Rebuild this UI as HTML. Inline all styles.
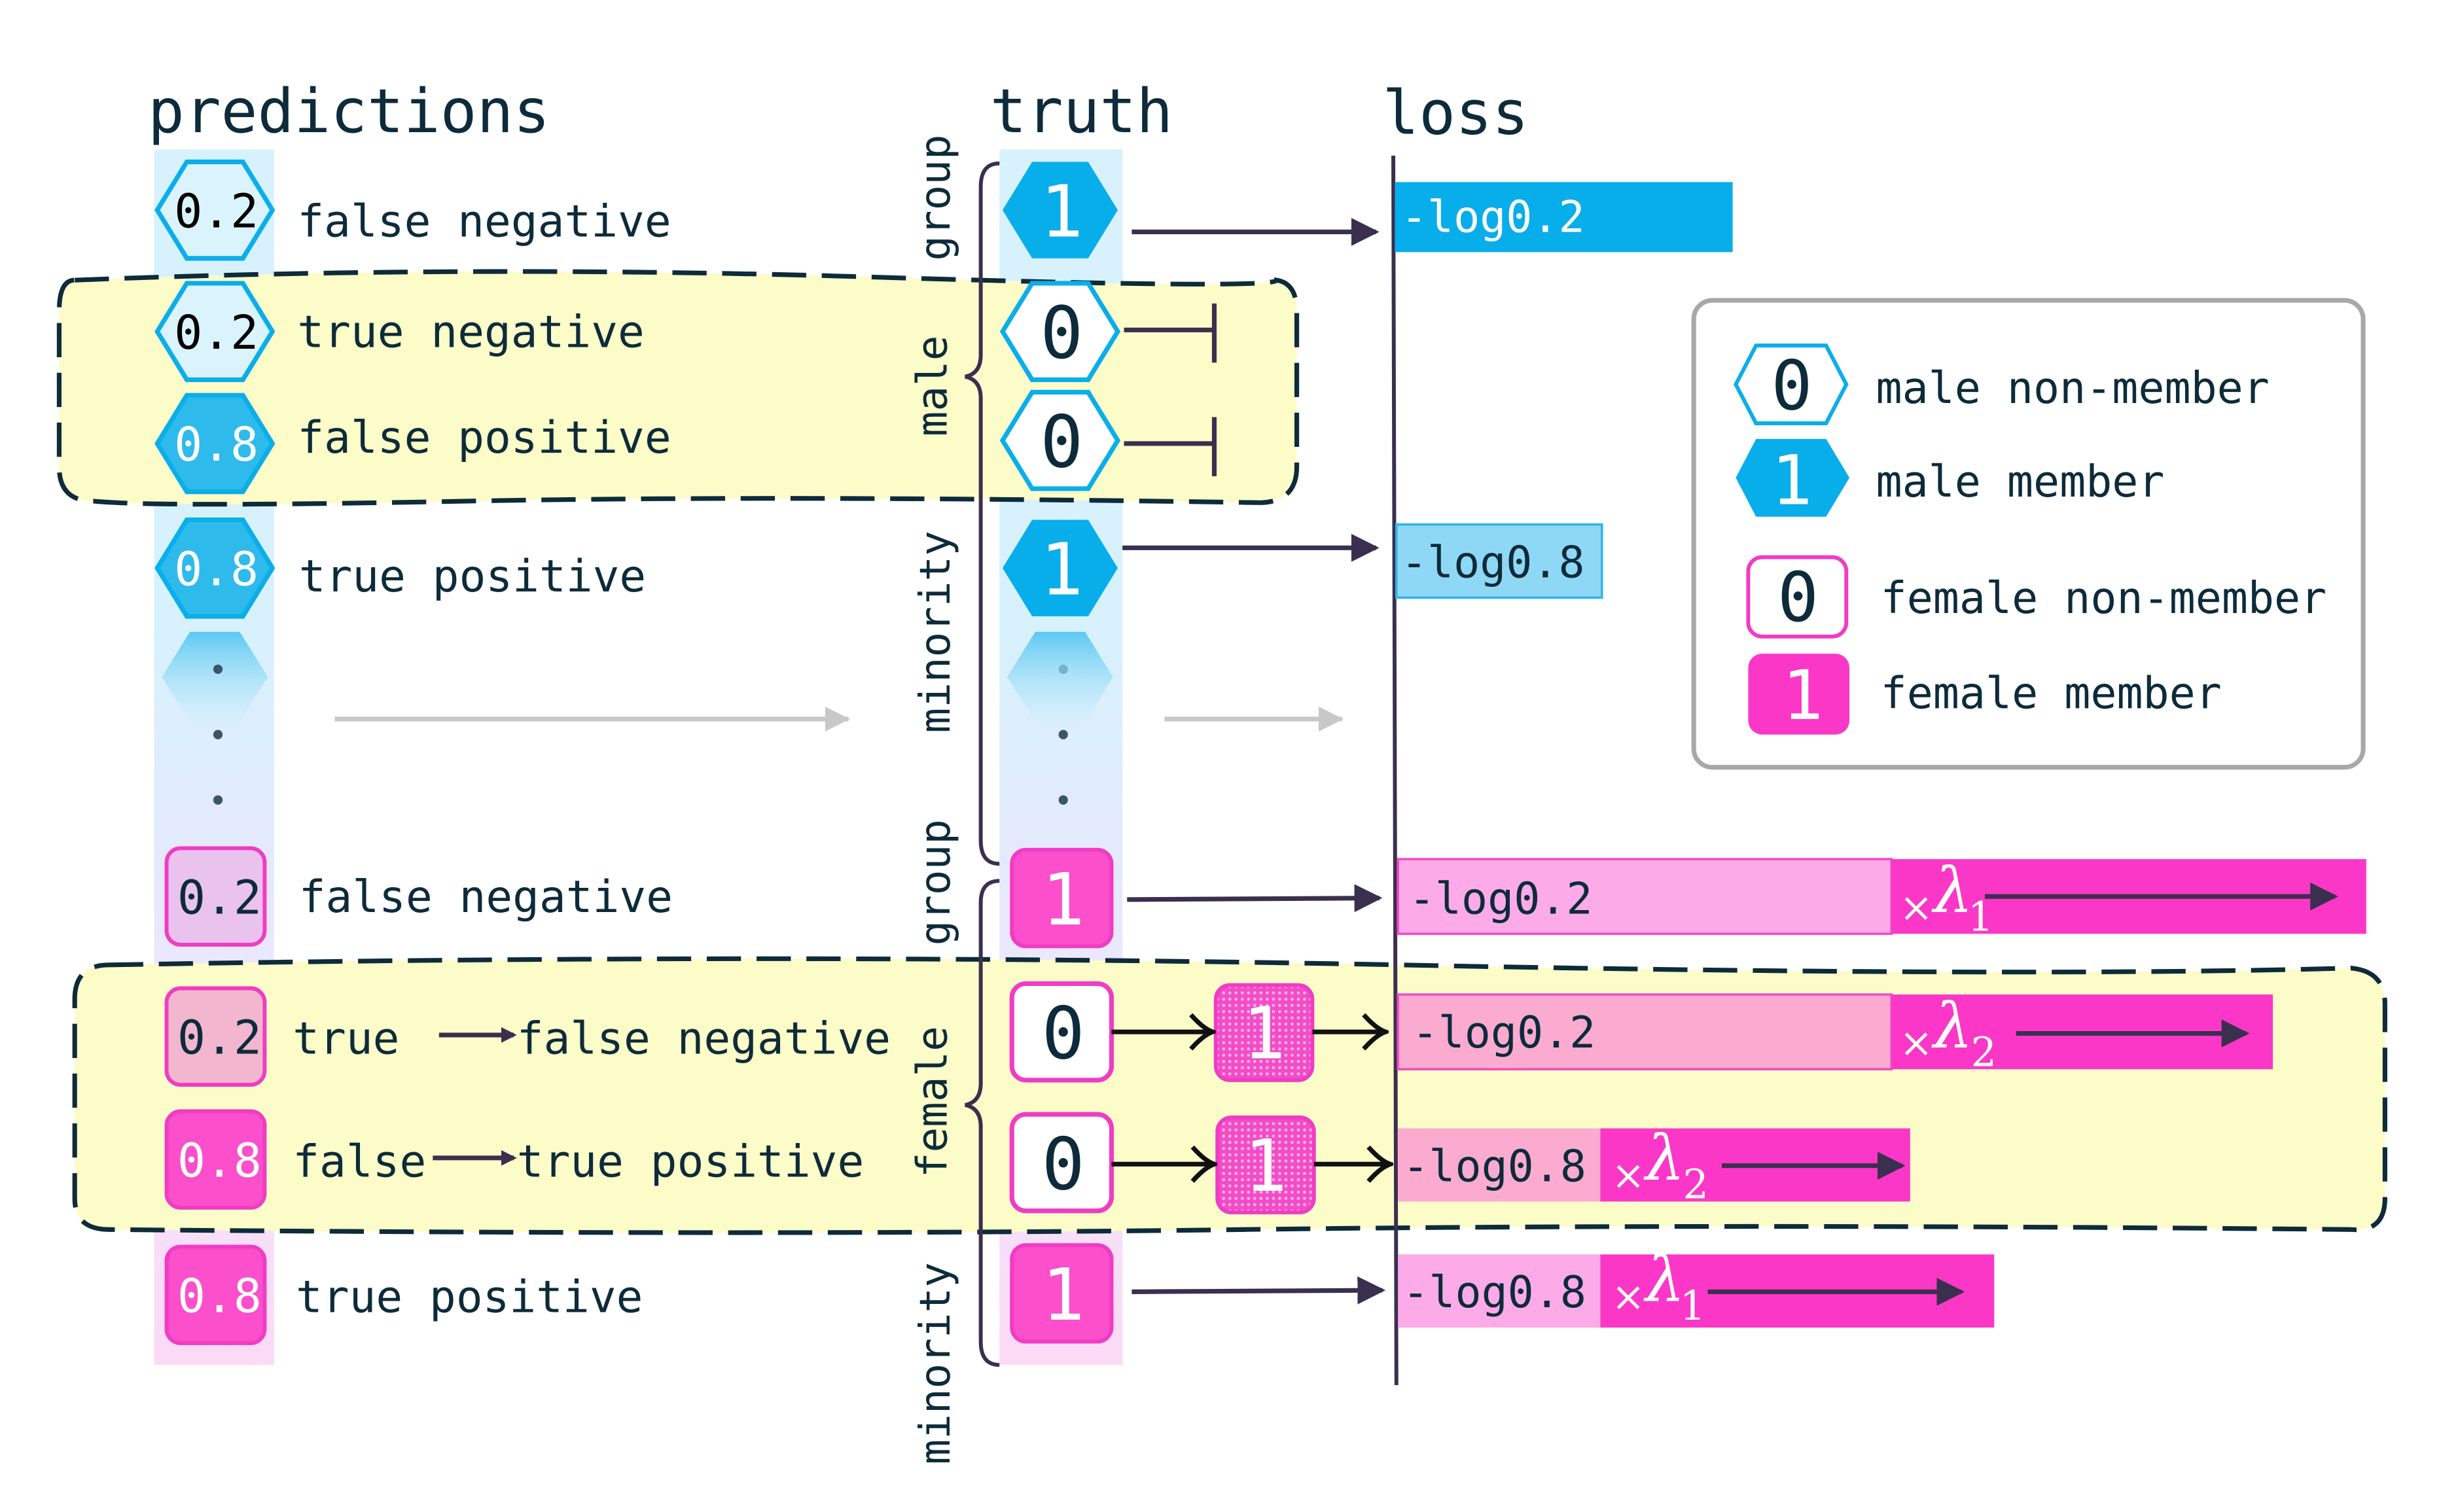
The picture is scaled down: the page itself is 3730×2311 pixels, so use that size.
<!DOCTYPE html>
<html><head><meta charset="utf-8"><style>html,body{margin:0;padding:0;background:#fff}svg{display:block}</style></head><body>
<svg width="3730" height="2311" viewBox="0 0 1568 971.5" preserveAspectRatio="none" xmlns="http://www.w3.org/2000/svg" font-family="'DejaVu Sans Mono','Liberation Mono',monospace">
<defs>
<linearGradient id="col" x1="0" y1="0" x2="0" y2="1">
<stop offset="0" stop-color="#cdeefc"/><stop offset="0.4" stop-color="#cdeefc"/><stop offset="0.6" stop-color="#dfe3fb"/><stop offset="0.75" stop-color="#ece0fb"/><stop offset="1" stop-color="#fbd0f3"/>
</linearGradient>
<linearGradient id="dot" x1="0" y1="0" x2="0" y2="1"><stop offset="0" stop-color="#5cc8f2"/><stop offset="1" stop-color="#cdeefc" stop-opacity="0.3"/></linearGradient>
<pattern id="hatch" width="4" height="4" patternUnits="userSpaceOnUse"><rect width="4" height="4" fill="#f24cc6"/><circle cx="2" cy="2" r="1" fill="#fbb0e6"/></pattern>
<marker id="ah" markerWidth="10" markerHeight="10" refX="8" refY="5" orient="auto" markerUnits="userSpaceOnUse"><path d="M0,0 L10,5 L0,10 z" fill="#3b2f4f"/></marker>
<marker id="ag" markerWidth="16" markerHeight="16" refX="15" refY="8" orient="auto" markerUnits="userSpaceOnUse"><path d="M0,0 L16,8 L0,16 z" fill="#c8c8c8"/></marker>
<marker id="ad" markerWidth="18" markerHeight="18" refX="16" refY="9" orient="auto" markerUnits="userSpaceOnUse"><path d="M0,0 L18,9 L0,18 z" fill="#3b2f4f"/></marker>
<marker id="ao" markerWidth="20" markerHeight="24" refX="18" refY="12" orient="auto" markerUnits="userSpaceOnUse"><path d="M4,1 Q12,10 18,12 Q12,14 4,23" fill="none" stroke="#111" stroke-width="3"/></marker>
</defs>

<!-- yellow regions fill -->
<path id="r1" d="M48,180 Q300,170 560,178 T820,180 Q833,182 833,200 L833,300 Q833,322 810,323 Q500,318 300,322 T60,322 Q38,322 38,300 L38,200 Q38,180 48,180 Z" fill="#fcfcc8"/>
<path id="r2" d="M70,620 Q500,612 900,620 T1510,622 Q1532,624 1532,645 L1532,770 Q1532,792 1510,790 Q1100,786 800,790 T70,790 Q48,790 48,770 L48,642 Q48,620 70,620 Z" fill="#fcfcc8"/>

<!-- columns -->
<rect x="99" y="96" width="77" height="781" fill="url(#col)" opacity="0.8"/>
<rect x="642" y="96" width="79" height="781" fill="url(#col)" opacity="0.8"/>

<!-- region strokes -->
<use href="#r1" fill="none" stroke="#0d2b3a" stroke-width="3" stroke-dasharray="22,10"/>
<use href="#r2" fill="none" stroke="#0d2b3a" stroke-width="3" stroke-dasharray="22,10"/>

<!-- headers -->
<g fill="#0d2b3a" font-size="39">
<text x="95" y="85">predictions</text>
<text x="636" y="85">truth</text>
<text x="888" y="86">loss</text>
</g>

<!-- prediction hexes -->
<g stroke="#0aaeea" stroke-width="3">
<polygon points="101,135 120,104 156,104 175,135 156,166 120,166" fill="#daf3fc"/>
<polygon points="101,213 120,182 156,182 175,213 156,244 120,244" fill="#daf3fc"/>
<polygon points="101,285 120,254 156,254 175,285 156,316 120,316" fill="#2ebbec"/>
<polygon points="101,365 120,334 156,334 175,365 156,396 120,396" fill="#2ebbec"/>
</g>
<polygon points="104,435 122,406 154,406 172,435 154,464 122,464" fill="url(#dot)"/>
<g font-size="30" text-anchor="middle">
<text x="139" y="146" fill="#000">0.2</text>
<text x="139" y="224" fill="#000">0.2</text>
<text x="139" y="296" fill="#fff">0.8</text>
<text x="139" y="376" fill="#fff">0.8</text>
</g>
<g fill="#3b5566"><circle cx="140" cy="430" r="3"/><circle cx="140" cy="472" r="3"/><circle cx="140" cy="514" r="3"/>
<circle cx="683" cy="430" r="3"/><circle cx="683" cy="472" r="3"/><circle cx="683" cy="514" r="3"/></g>

<!-- prediction pink boxes -->
<g stroke="#f03cc4" stroke-width="2.5">
<rect x="107" y="545" width="63" height="62" rx="9" fill="#e9c2ee"/>
<rect x="107" y="635" width="63" height="62" rx="9" fill="#f2b6cf"/>
<rect x="107" y="714" width="63" height="62" rx="9" fill="#fb4fcc"/>
<rect x="107" y="801" width="63" height="62" rx="9" fill="#fb4fcc"/>
</g>
<g font-size="30" text-anchor="middle">
<text x="141" y="587" fill="#0d2b3a">0.2</text>
<text x="141" y="677" fill="#0d2b3a">0.2</text>
<text x="141" y="756" fill="#fff">0.8</text>
<text x="141" y="843" fill="#fff">0.8</text>
</g>

<!-- labels -->
<g fill="#0d2b3a" font-size="28.5">
<text x="191" y="152">false negative</text>
<text x="191" y="223">true negative</text>
<text x="191" y="291">false positive</text>
<text x="192" y="380">true positive</text>
<text x="192" y="586">false negative</text>
<text x="188" y="677">true</text>
<text x="332" y="677">false negative</text>
<text x="188" y="756">false</text>
<text x="332" y="756">true positive</text>
<text x="190" y="843">true positive</text>
</g>
<line x1="282" y1="665" x2="330" y2="665" stroke="#3b2f4f" stroke-width="3" marker-end="url(#ah)"/>
<line x1="278" y1="744" x2="330" y2="744" stroke="#3b2f4f" stroke-width="3" marker-end="url(#ah)"/>

<!-- grey arrows -->
<line x1="215" y1="462" x2="545" y2="462" stroke="#c8c8c8" stroke-width="3" marker-end="url(#ag)"/>
<line x1="748" y1="462" x2="862" y2="462" stroke="#c8c8c8" stroke-width="3" marker-end="url(#ag)"/>

<!-- rotated labels -->
<g fill="#0d2b3a" font-size="27" text-anchor="middle">
<text transform="translate(610,127) rotate(-90)">group</text>
<text transform="translate(608,248) rotate(-90)">male</text>
<text transform="translate(610,406) rotate(-90)">minority</text>
<text transform="translate(610,567) rotate(-90)">group</text>
<text transform="translate(608,708) rotate(-90)">female</text>
<text transform="translate(610,876) rotate(-90)">minority</text>
</g>

<!-- braces -->
<g fill="none" stroke="#3b2f4f" stroke-width="2.5">
<path d="M642,105 Q630,105 630,120 L630,228 Q630,240 620,242 Q630,244 630,256 L630,540 Q630,555 642,555"/>
<path d="M642,566 Q630,566 630,580 L630,696 Q630,708 620,710 Q630,712 630,724 L630,862 Q630,877 642,877"/>
</g>

<!-- truth hexes -->
<polygon points="644,135 663,104 699,104 718,135 699,166 663,166" fill="#08aeea"/>
<polygon points="644,213 663,182 699,182 718,213 699,244 663,244" fill="#fff" stroke="#0aaeea" stroke-width="3"/>
<polygon points="644,283 663,252 699,252 718,283 699,314 663,314" fill="#fff" stroke="#0aaeea" stroke-width="3"/>
<polygon points="644,365 663,334 699,334 718,365 699,396 663,396" fill="#08aeea"/>
<polygon points="647,435 665,406 697,406 715,435 697,464 665,464" fill="url(#dot)"/>
<g font-size="46" text-anchor="middle">
<text x="682" y="152" fill="#fff">1</text>
<text x="682" y="230" fill="#0d2b3a">0</text>
<text x="682" y="300" fill="#0d2b3a">0</text>
<text x="682" y="382" fill="#fff">1</text>
</g>

<!-- truth pink boxes -->
<rect x="650" y="546" width="64" height="62" rx="9" fill="#fb4fcc" stroke="#f03cc4" stroke-width="2.5"/>
<rect x="650" y="632" width="64" height="62" rx="9" fill="#fff" stroke="#f03cc4" stroke-width="3"/>
<rect x="650" y="716" width="64" height="62" rx="9" fill="#fff" stroke="#f03cc4" stroke-width="3"/>
<rect x="650" y="800" width="64" height="62" rx="9" fill="#fb4fcc" stroke="#f03cc4" stroke-width="2.5"/>
<rect x="781" y="633" width="62" height="61" rx="9" fill="url(#hatch)" stroke="#f03cc4" stroke-width="2.5"/>
<rect x="782" y="718" width="62" height="61" rx="9" fill="url(#hatch)" stroke="#f03cc4" stroke-width="2.5"/>
<g font-size="46" text-anchor="middle">
<text x="683" y="594" fill="#fff">1</text>
<text x="683" y="680" fill="#0d2b3a">0</text>
<text x="683" y="764" fill="#0d2b3a">0</text>
<text x="683" y="848" fill="#fff">1</text>
<text x="812" y="680" fill="#fff">1</text>
<text x="813" y="765" fill="#fff">1</text>
</g>

<!-- connectors -->
<g stroke="#3b2f4f" stroke-width="3">
<line x1="727" y1="149" x2="884" y2="149" marker-end="url(#ad)"/>
<line x1="721" y1="352" x2="884" y2="352" marker-end="url(#ad)"/>
<line x1="724" y1="578" x2="886" y2="577" marker-end="url(#ad)"/>
<line x1="727" y1="830" x2="888" y2="829" marker-end="url(#ad)"/>
<line x1="722" y1="212" x2="780" y2="212"/><line x1="780" y1="195" x2="780" y2="233"/>
<line x1="722" y1="285" x2="780" y2="285"/><line x1="780" y1="268" x2="780" y2="306"/>
</g>
<g stroke="#111" stroke-width="3">
<line x1="714" y1="663" x2="779" y2="663" marker-end="url(#ao)"/>
<line x1="843" y1="663" x2="890" y2="663" marker-end="url(#ao)"/>
<line x1="714" y1="748" x2="780" y2="748" marker-end="url(#ao)"/>
<line x1="844" y1="748" x2="893" y2="748" marker-end="url(#ao)"/>
</g>

<!-- loss axis -->
<line x1="895" y1="100" x2="897" y2="890" stroke="#3b2f4f" stroke-width="2.5"/>

<!-- bars -->
<rect x="896" y="117" width="217" height="45" fill="#08aeea"/>
<text x="900" y="149" font-size="28" fill="#fff">-log0.2</text>
<rect x="897" y="337" width="132" height="47" fill="#8fd8f5" stroke="#2cb5ea" stroke-width="1.5"/>
<text x="900" y="371" font-size="28" fill="#0d2b3a">-log0.8</text>

<rect x="898" y="552" width="317" height="48" fill="#fcaae8" stroke="#f24cc6" stroke-width="1.5"/>
<rect x="1215" y="552" width="305" height="48" fill="#fb37c8"/>
<rect x="898" y="639" width="317" height="48" fill="#fbabd0" stroke="#f24cc6" stroke-width="1.5"/>
<rect x="1215" y="639" width="245" height="48" fill="#fb37c8"/>
<rect x="898" y="725" width="130" height="47" fill="#fbabd0"/>
<rect x="1028" y="725" width="199" height="47" fill="#fb37c8"/>
<rect x="898" y="806" width="130" height="47" fill="#fcaae8"/>
<rect x="1028" y="806" width="253" height="47" fill="#fb37c8"/>
<g font-size="28" fill="#0d2b3a">
<text x="905" y="587">-log0.2</text>
<text x="907" y="673">-log0.2</text>
<text x="901" y="759">-log0.8</text>
<text x="901" y="840">-log0.8</text>
</g>
<g fill="#fff" font-family="'DejaVu Serif','Liberation Serif',serif">
<text x="1220" y="592" font-size="26">×</text><text x="1242" y="586" font-size="40" font-style="italic">λ</text><text x="1264" y="598" font-size="26">1</text>
<text x="1220" y="679" font-size="26">×</text><text x="1242" y="673" font-size="40" font-style="italic">λ</text><text x="1266" y="685" font-size="26">2</text>
<text x="1035" y="764" font-size="26">×</text><text x="1057" y="758" font-size="40" font-style="italic">λ</text><text x="1081" y="770" font-size="26">2</text>
<text x="1035" y="842" font-size="26">×</text><text x="1057" y="836" font-size="40" font-style="italic">λ</text><text x="1079" y="848" font-size="26">1</text>
</g>
<g stroke="#3b2f4f" stroke-width="3">
<line x1="1275" y1="576" x2="1500" y2="576" marker-end="url(#ad)"/>
<line x1="1295" y1="664" x2="1443" y2="664" marker-end="url(#ad)"/>
<line x1="1106" y1="749" x2="1222" y2="749" marker-end="url(#ad)"/>
<line x1="1097" y1="830" x2="1260" y2="830" marker-end="url(#ad)"/>
</g>

<!-- legend -->
<rect x="1088" y="193" width="430" height="300" rx="12" fill="#fff" stroke="#a8a8a8" stroke-width="3"/>
<polygon points="1115,247 1128,222 1173,222 1186,247 1173,272 1128,272" fill="#fff" stroke="#0aaeea" stroke-width="2.5"/>
<polygon points="1115,307 1128,282 1173,282 1188,307 1173,332 1128,332" fill="#08aeea"/>
<rect x="1123" y="358" width="63" height="51" rx="9" fill="#fff" stroke="#f03cc4" stroke-width="2.5"/>
<rect x="1123" y="420" width="65" height="52" rx="9" fill="#fb37c8"/>
<g font-size="44" text-anchor="middle">
<text x="1151" y="263" fill="#0d2b3a">0</text>
<text x="1151" y="324" fill="#fff">1</text>
<text x="1155" y="399" fill="#0d2b3a">0</text>
<text x="1158" y="462" fill="#fff">1</text>
</g>
<g fill="#0d2b3a" font-size="28">
<text x="1205" y="259">male non-member</text>
<text x="1205" y="319">male member</text>
<text x="1208" y="394">female non-member</text>
<text x="1208" y="455">female member</text>
</g>
</svg>
</body></html>
